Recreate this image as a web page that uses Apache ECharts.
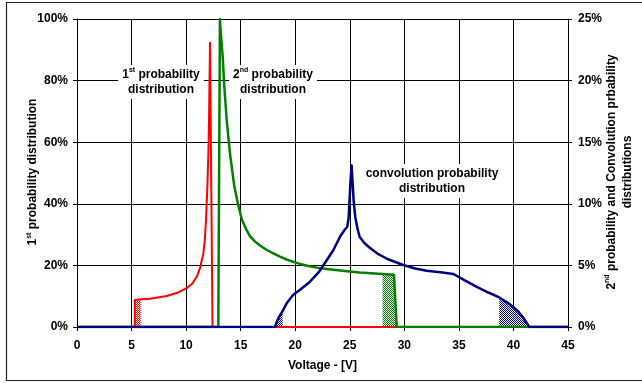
<!DOCTYPE html>
<html>
<head>
<meta charset="utf-8">
<script src="https://cdn.jsdelivr.net/npm/echarts@6/dist/echarts.min.js"></script>
<style>
html,body{margin:0;padding:0;background:#fff;}
#chart{width:642px;height:383px;}
</style>
</head>
<body>
<div id="chart"></div>
<script>
// ---- Data ----
// 1st probability distribution (left axis, %)
const redX = [0, 5.3, 5.3, 5.84, 6.7, 8.22, 9.2, 10.05, 10.6, 10.97, 11.27, 11.58, 11.72, 11.82, 11.95, 12.04, 12.1, 12.19, 12.24, 12.42, 45];
const redY = [0, 0, 8.8, 9.0, 9.2, 10.06, 11.1, 12.6, 14.2, 16.3, 19.0, 23.9, 28.5, 34.7, 45.5, 56.4, 67.2, 92.3, 92.3, 0, 0];
// 2nd probability distribution (right axis, %)
const greenX = [0, 12.95, 13.1, 13.2, 13.35, 13.5, 13.72, 14.02, 14.42, 14.75, 15.1, 15.5, 15.86, 16.3, 16.8, 17.4, 18.0, 18.6, 19.2, 19.8, 20.44, 21.2, 22.0, 22.9, 24.1, 25.9, 28.0, 29.05, 29.3, 45];
const greenY = [0, 0, 25.0, 23.6, 22.0, 19.5, 16.8, 14.1, 11.4, 10.0, 8.75, 7.95, 7.35, 6.95, 6.6, 6.25, 5.98, 5.72, 5.48, 5.3, 5.12, 4.95, 4.82, 4.7, 4.58, 4.42, 4.3, 4.25, 0, 0];
// Convolution probability distribution (right axis, %)
const blueX = [0, 18.15, 18.3, 18.45, 18.6, 18.85, 19.2, 19.8, 20.5, 21.35, 22.2, 22.9, 23.5, 24.1, 24.5, 24.77, 24.9, 24.96, 25.04, 25.1, 25.17, 25.24, 25.35, 25.5, 25.7, 25.9, 26.3, 26.8, 27.5, 28.5, 29.9, 31.0, 32.05, 33.3, 34.5, 35.5, 36.6, 37.7, 38.7, 39.5, 40.0, 40.5, 40.9, 41.2, 41.45, 45];
const blueY = [0, 0, 0.4, 0.7, 0.95, 1.3, 1.9, 2.6, 3.06, 3.68, 4.5, 5.44, 6.25, 7.33, 7.85, 8.14, 8.9, 10.0, 11.4, 12.3, 13.1, 12.0, 10.3, 8.95, 8.0, 7.33, 6.85, 6.45, 5.98, 5.5, 5.03, 4.75, 4.57, 4.45, 4.3, 3.8, 3.27, 2.8, 2.4, 1.95, 1.62, 1.2, 0.75, 0.35, 0, 0];
// hatched ranges [from, to] in volts
const redHatch = [5.3, 5.84];
const greenHatch = [28.0, 29.3];
const blueHatchA = [18.15, 18.85];
const blueHatchB = [38.7, 41.45];
// tick settings
const xTicks = {min: 0, max: 45, interval: 5};
const leftTicks = {min: 0, max: 100, interval: 20};
const rightTicks = {min: 0, max: 25, interval: 5};

// ---- helpers ----
const zip = (xs, ys) => xs.map((x, i) => [x, ys[i]]);
const within = (pts, r) => pts.filter(p => p[0] >= r[0] - 1e-9 && p[0] <= r[1] + 1e-9);
function pattern(color) {
  const cv = document.createElement('canvas');
  cv.width = 2; cv.height = 2;
  const g = cv.getContext('2d');
  g.fillStyle = '#ffffff'; g.fillRect(0, 0, 2, 2);
  g.fillStyle = color; g.fillRect(0, 0, 1, 1); g.fillRect(1, 1, 1, 1);
  return {image: cv, repeat: 'repeat'};
}
const RED = '#ff0000', GREEN = '#008000', NAVY = '#000080';
const FONT = 'Arial, "Liberation Sans", sans-serif';
const FS = 12;
const red = zip(redX, redY), green = zip(greenX, greenY), blue = zip(blueX, blueY);

function hatch(pts, r, color, yi) {
  return {type: 'line', yAxisIndex: yi, data: within(pts, r), showSymbol: false, silent: true,
    lineStyle: {width: 0}, areaStyle: {color: pattern(color), opacity: 1}, z: 1};
}
function curve(pts, color, yi, w) {
  return {type: 'line', yAxisIndex: yi, data: pts, showSymbol: false, silent: true,
    lineStyle: {color: color, width: w, join: 'round'}, z: 3};
}

const axisLbl = {fontFamily: FONT, fontWeight: 'bold', fontSize: FS, color: '#000'};
const blk = {color: '#000', width: 1};
const chart = echarts.init(document.getElementById('chart'), null, {renderer: 'canvas'});
const richSup = {
  b: {fontFamily: FONT, fontWeight: 'bold', fontSize: FS, color: '#000', lineHeight: 15},
  s: {fontFamily: FONT, fontWeight: 'bold', fontSize: 7, color: '#000', lineHeight: 15, verticalAlign: 'top'}
};
const richTitle = {
  b: {fontFamily: FONT, fontWeight: 'bold', fontSize: FS, color: '#000', lineHeight: 16},
  s: {fontFamily: FONT, fontWeight: 'bold', fontSize: 7, color: '#000', lineHeight: 16, verticalAlign: 'top'}
};
chart.setOption({
  animation: false,
  backgroundColor: '#fff',
  grid: {left: 77, right: 74, top: 19, bottom: 56, containLabel: false},
  xAxis: {type: 'value', min: xTicks.min, max: xTicks.max, interval: xTicks.interval,
    axisLine: {show: true, lineStyle: blk}, axisTick: {show: true, length: 4, lineStyle: blk},
    splitLine: {show: true, lineStyle: blk}, axisLabel: Object.assign({margin: 13}, axisLbl),
    name: 'Voltage - [V]', nameLocation: 'middle', nameGap: 33,
    nameTextStyle: {fontFamily: FONT, fontWeight: 'bold', fontSize: FS, color: '#000'}},
  yAxis: [
    {type: 'value', min: leftTicks.min, max: leftTicks.max, interval: leftTicks.interval, position: 'left',
      axisLine: {show: true, lineStyle: blk}, axisTick: {show: true, length: 4, lineStyle: blk},
      splitLine: {show: true, lineStyle: blk}, axisLabel: Object.assign({margin: 9, formatter: '{value}%'}, axisLbl)},
    {type: 'value', min: rightTicks.min, max: rightTicks.max, interval: rightTicks.interval, position: 'right',
      axisLine: {show: true, lineStyle: blk}, axisTick: {show: true, length: 4, lineStyle: blk},
      splitLine: {show: false}, axisLabel: Object.assign({margin: 10, formatter: '{value}%'}, axisLbl)}
  ],
  series: [
    hatch(red, redHatch, RED, 0),
    hatch(green, greenHatch, GREEN, 1),
    hatch(blue, blueHatchA, NAVY, 1),
    hatch(blue, blueHatchB, NAVY, 1),
    curve(red, RED, 0, 2),
    curve(green, GREEN, 1, 2.5),
    curve(blue, NAVY, 1, 2.5)
  ],
  graphic: [
    {type: 'rect', shape: {x: 6.5, y: 2.5, width: 640, height: 378}, style: {fill: null, stroke: '#222', lineWidth: 1.2}, z: 0, silent: true},
    {type: 'text', x: 161, y: 65, z: 10,
      style: {text: '{b|1}{s|st}{b| probability}\n{b|distribution}', rich: richSup, align: 'center', verticalAlign: 'top',
        backgroundColor: '#fff', padding: [2, 4, 2, 4]}},
    {type: 'text', x: 273, y: 65, z: 10,
      style: {text: '{b|2}{s|nd}{b| probability}\n{b|distribution}', rich: richSup, align: 'center', verticalAlign: 'top',
        backgroundColor: '#fff', padding: [2, 4, 2, 4]}},
    {type: 'text', x: 432, y: 164, z: 10,
      style: {text: '{b|convolution probability}\n{b|distribution}', rich: richSup, align: 'center', verticalAlign: 'top',
        backgroundColor: '#fff', padding: [2, 4, 2, 4]}},
    {type: 'text', x: 33, y: 172, rotation: Math.PI / 2, z: 10,
      style: {text: '{b|1}{s|st}{b| probability distribution}', rich: richSup, align: 'center', verticalAlign: 'middle'}},
    {type: 'text', x: 620, y: 172, rotation: Math.PI / 2, z: 10,
      style: {text: '{b|2}{s|nd}{b| probability and Convolution prbability}\n{b|distributions}', rich: richTitle, align: 'center', verticalAlign: 'middle'}}
  ]
});
</script>
</body>
</html>
